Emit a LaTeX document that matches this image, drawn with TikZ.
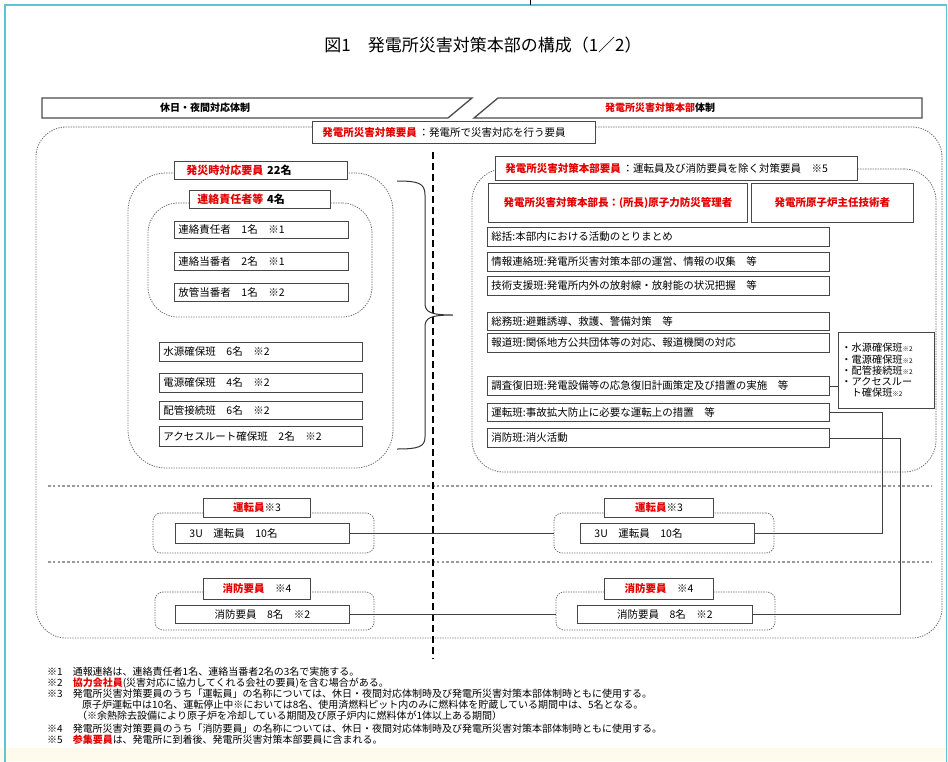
\documentclass[tikz,border=0pt]{standalone}
\usepackage{fontspec}
\setmainfont{Noto Sans CJK JP}
\newcommand\jfs[1]{\fontsize{#1pt}{#1pt}\selectfont}
\definecolor{jred}{RGB}{228,0,0}
\definecolor{framec}{RGB}{95,195,215}
\definecolor{bandc}{RGB}{255,251,236}
\definecolor{dotc}{RGB}{110,110,110}
\tikzset{
  box/.style={draw=black!72, line width=0.9pt, fill=white, inner xsep=4pt, inner ysep=0pt, align=left, anchor=north west, font=\jfs{10.5}},
  cbox/.style={box, align=center},
  grp/.style={draw=dotc, line width=0.8pt, dash pattern=on 1.3pt off 1.2pt, inner sep=0pt},
  sep/.style={draw=black!40, line width=1.5pt, dash pattern=on 2.6pt off 2.2pt},
  conn/.style={draw=black!75, line width=0.9pt},
  fn/.style={anchor=west, inner sep=0pt, font=\jfs{10}},
  rb/.style={text=jred, font=\bfseries}
}
\newcommand\rt[1]{{\color{jred}\bfseries #1}}
\begin{document}
\begin{tikzpicture}[x=1pt,y=-1pt]
\useasboundingbox (0,0) rectangle (948,761);
\fill[white] (0,0) rectangle (948,761);
\fill[bandc] (0,748) rectangle (948,761);
\draw[framec, line width=1.6pt] (5,770) -- (5,5) -- (946.5,5) -- (946.5,770);
\draw[black, line width=1pt] (530,0) -- (530,5);

% title
\node[font=\jfs{17}] (title) at (483,45) {図1　発電所災害対策本部の構成（1／2）};

% header bars
\draw[draw=black!70, line width=1.3pt, fill=white] (42,98) -- (472,98) -- (448,118) -- (42,118) -- cycle;
\draw[draw=black!70, line width=1.3pt, fill=white] (498,98) -- (922,98) -- (922,118) -- (474,118) -- cycle;
\node[font=\jfs{10}\bfseries] (hl) at (205,108) {休日・夜間対応体制};
\node[font=\jfs{10}\bfseries] (hr) at (660,108) {\rt{発電所災害対策本部}体制};

% outer group
\node[grp, rounded corners=30pt, minimum width=906pt, minimum height=511pt] (outer) at (489,382.5) {};
\node[box, inner xsep=10pt, text width=263pt, minimum height=22pt] (lab0) at (312,121) {\rt{発電所災害対策要員}\,：発電所で災害対応を行う要員};

% separators and vertical divider
\draw[sep] (48,486) -- (932,486);
\draw[sep] (48,562) -- (932,562);
\draw[black, line width=2.2pt, dash pattern=on 7pt off 4pt] (lab0.south -| 433,0) ++(0,8) coordinate (vtop) -- (433,658) coordinate (vbot);

% left column
\node[grp, rounded corners=38pt, minimum width=265pt, minimum height=295pt] (g22) at (260.5,320.5) {};
\node[box, inner xsep=12pt, text width=149pt, minimum height=18pt, font=\jfs{11}\bfseries] (lab22) at (174,161) {\rt{発災時対応要員}\ 22名};
\node[grp, rounded corners=30pt, minimum width=224pt, minimum height=114pt] (g4) at (260,260) {};
\node[box, inner xsep=8pt, text width=125pt, minimum height=18pt, font=\jfs{11}\bfseries] (lab4) at (189,190) {\rt{連絡責任者等}\ 4名};
\node[box, text width=166pt, minimum height=17pt] (it1) at (174,221) {連絡責任者　1名　※1};
\node[box, text width=166pt, minimum height=18pt] (it2) at (174,252) {連絡当番者　2名　※1};
\node[box, text width=166pt, minimum height=18pt] (it3) at (174,283) {放管当番者　1名　※2};
\node[box, text width=195pt, minimum height=19pt] (it4) at (159,342) {水源確保班　6名　※2};
\node[box, text width=195pt, minimum height=19pt] (it5) at (159,373) {電源確保班　4名　※2};
\node[box, text width=195pt, minimum height=18pt] (it6) at (159,401) {配管接続班　6名　※2};
\node[box, text width=195pt, minimum height=20pt] (it7) at (159,426) {アクセスルート確保班　2名　※2};
\draw[black!80, line width=1pt] (397,181) .. controls (418,181) and (425,183) .. (425,195) -- (425,303) .. controls (425,312) and (430,315) .. (453,315) .. controls (430,315) and (425,318) .. (425,327) -- (425,437) .. controls (425,447) and (418,449) .. (397,449);

% right column
\node[grp, rounded corners=32pt, minimum width=464pt, minimum height=303pt] (gR) at (704,320.5) {};
\node[box, inner xsep=10pt, text width=342pt, minimum height=24pt] (labR) at (495,156) {\rt{発電所災害対策本部要員}\,：運転員及び消防要員を除く対策要員　※5};
\node[cbox, text width=251pt, minimum height=39pt, font=\jfs{10.5}\bfseries\color{jred}] (hbc) at (488,183) {発電所災害対策本部長：(所長)原子力防災管理者};
\node[cbox, text width=154pt, minimum height=39pt, font=\jfs{10.5}\bfseries\color{jred}] (shunin) at (751,183) {発電所原子炉主任技術者};
\node[box, text width=334pt, minimum height=19pt] (r1) at (487,227) {総括:本部内における活動のとりまとめ};
\node[box, text width=334pt, minimum height=19pt] (r2) at (487,252) {情報連絡班:発電所災害対策本部の運営、情報の収集　等};
\node[box, text width=334pt, minimum height=19pt] (r3) at (487,276) {技術支援班:発電所内外の放射線・放射能の状況把握　等};
\node[box, text width=334pt, minimum height=18pt] (r4) at (487,312) {総務班:避難誘導、救護、警備対策　等};
\node[box, text width=334pt, minimum height=19pt] (r5) at (487,333) {報道班:関係地方公共団体等の対応、報道機関の対応};
\node[box, text width=334pt, minimum height=19pt] (r6) at (487,376) {調査復旧班:発電設備等の応急復旧計画策定及び措置の実施　等};
\node[box, text width=334pt, minimum height=18pt] (r7) at (487,403) {運転班:事故拡大防止に必要な運転上の措置　等};
\node[box, text width=334pt, minimum height=19pt] (r8) at (487,428) {消防班:消火活動};
\node[box, inner xsep=3pt, text width=90pt, minimum height=76pt, font=\fontsize{10.2pt}{11.2pt}\selectfont, align=left] (side) at (838,332) {・水源確保班{\jfs{6.5}※2}\\・電源確保班{\jfs{6.5}※2}\\・配管接続班{\jfs{6.5}※2}\\・アクセスルー\\\phantom{・}ト確保班{\jfs{6.5}※2}};

% bottom groups
\node[grp, rounded corners=8pt, minimum width=221pt, minimum height=40pt] (gL3) at (263.5,533) {};
\node[cbox, text width=99pt, minimum height=19pt] (labL3) at (203,498) {\rt{運転員}※3};
\node[box, inner xsep=14pt, text width=146pt, minimum height=20pt] (L3U) at (175,523) {3U　運転員　10名};
\node[grp, rounded corners=8pt, minimum width=220pt, minimum height=40pt] (gR3) at (664,533) {};
\node[cbox, text width=101pt, minimum height=19pt] (labR3) at (604,498) {\rt{運転員}※3};
\node[box, inner xsep=14pt, text width=146pt, minimum height=20pt] (R3U) at (580,523) {3U　運転員　10名};
\node[grp, rounded corners=8pt, minimum width=219pt, minimum height=38pt] (gL4) at (264.5,611) {};
\node[cbox, text width=99pt, minimum height=21pt] (labL4) at (203,578) {\rt{消防要員}　※4};
\node[cbox, text width=166pt, minimum height=18pt] (L4in) at (175,605) {消防要員　8名　※2};
\node[grp, rounded corners=8pt, minimum width=219pt, minimum height=38pt] (gR4) at (665.5,611) {};
\node[cbox, text width=101pt, minimum height=21pt] (labR4) at (604,578) {\rt{消防要員}　※4};
\node[cbox, text width=167pt, minimum height=18pt] (R4in) at (577,605) {消防要員　8名　※2};

% connectors
\coordinate (c1) at (882,420);
\coordinate (c2) at (900,440);
\draw[conn] (r6.east) -- (side.west |- r6.east);
\draw[conn] (r7.east) -| (c1 |- R3U.east) -- (R3U.east);
\draw[conn] (r8.east) -| (c2 |- R4in.east) -- (R4in.east);
\draw[conn] (L3U.east) -- (gR3.west |- L3U.east);
\draw[conn] (L4in.east) -- (gR4.west |- L4in.east);

% footnotes
\node[fn] (f1) at (47,672) {※1　通報連絡は、連絡責任者1名、連絡当番者2名の3名で実施する。};
\node[fn] (f2) at (47,683) {※2　\rt{協力会社員}(災害対応に協力してくれる会社の要員)を含む場合がある。};
\node[fn] (f3) at (47,694) {※3　発電所災害対策要員のうち「運転員」の名称については、休日・夜間対応体制時及び発電所災害対策本部体制時ともに使用する。};
\node[fn] (f3b) at (82,705) {原子炉運転中は10名、運転停止中※においては8名、使用済燃料ピット内のみに燃料体を貯蔵している期間中は、5名となる。};
\node[fn] (f3c) at (77,716) {（※余熱除去設備により原子炉を冷却している期間及び原子炉内に燃料体が1体以上ある期間）};
\node[fn] (f4) at (47,729) {※4　発電所災害対策要員のうち「消防要員」の名称については、休日・夜間対応体制時及び発電所災害対策本部体制時ともに使用する。};
\node[fn] (f5) at (47,740) {※5　\rt{参集要員}は、発電所に到着後、発電所災害対策本部要員に含まれる。};
\end{tikzpicture}
\end{document}
